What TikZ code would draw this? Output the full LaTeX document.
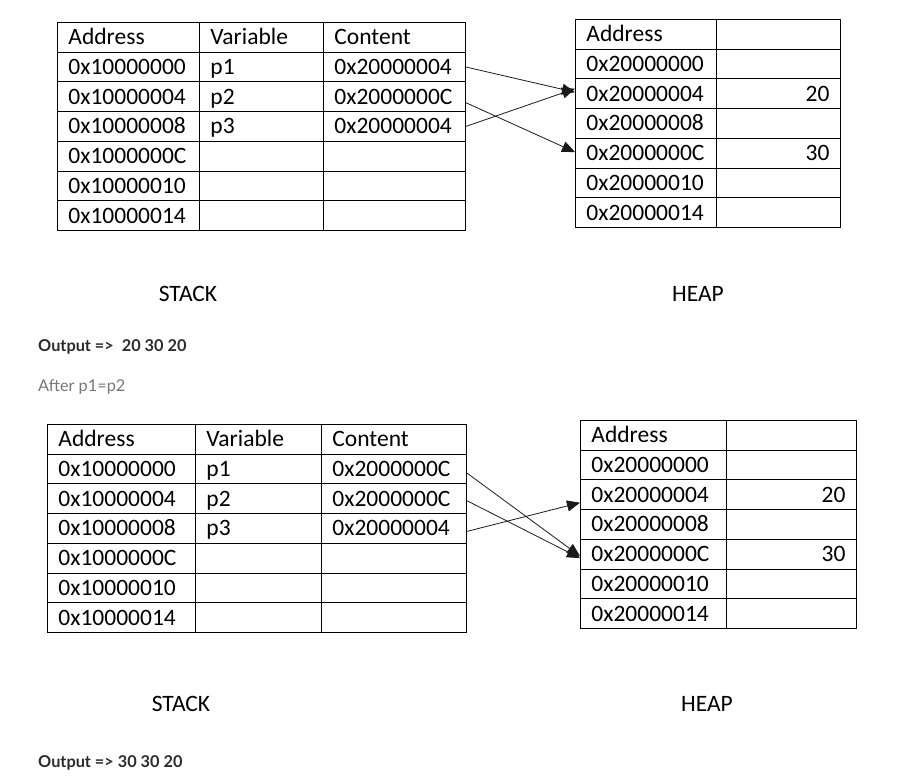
\documentclass[tikz,border=0pt]{standalone}
\usepackage{fontspec}
\setmainfont{Carlito}
\newfontfamily\latofont{Lato}
\usetikzlibrary{arrows.meta}
\definecolor{outtext}{HTML}{2B2B2B}
\definecolor{aftertext}{HTML}{777777}
\definecolor{arrowcol}{HTML}{1A1A1A}
\begin{document}
\begin{tikzpicture}[x=1pt,y=-1pt,
  cell/.style={draw=black, line width=0.9pt, rectangle, inner xsep=11pt, inner ysep=0pt,
    minimum height=29.7pt, text height=18pt, text depth=3pt,
    font=\fontsize{23.5}{26}\selectfont, anchor=north west},
  lcell/.style={cell, align=left},
  rcell/.style={cell, align=right},
  caption/.style={font=\fontsize{23.5}{26}\selectfont},
  outlabel/.style={font=\latofont\bfseries\fontsize{16.3}{19}\selectfont, text=outtext, anchor=west, inner sep=0pt},
  afterlabel/.style={font=\latofont\fontsize{16.3}{19}\selectfont, text=aftertext, anchor=west, inner sep=0pt},
  ptr/.style={draw=arrowcol, line width=0.8pt, -{Triangle[length=13pt,width=11pt]}}
]
\useasboundingbox (0,0) rectangle (903,777);

% ---------- top stack ----------
\foreach \r/\a/\v/\c in {0/Address/Variable/Content,
  1/0x10000000/p1/0x20000004, 2/0x10000004/p2/0x2000000C, 3/0x10000008/p3/0x20000004,
  4/0x1000000C//, 5/0x10000010//, 6/0x10000014//}{
  \node[lcell, text width=120pt] (sa\r) at (57,{22+29.7*\r}) {\a};
  \node[lcell, text width=102pt] (sv\r) at (199,{22+29.7*\r}) {\v};
  \node[lcell, text width=120pt] (sc\r) at (323,{22+29.7*\r}) {\c};
}
% ---------- top heap ----------
\foreach \r/\a/\v in {0/Address/, 1/0x20000000/, 2/0x20000004/20, 3/0x20000008/,
  4/0x2000000C/30, 5/0x20000010/, 6/0x20000014/}{
  \node[lcell, text width=119pt] (ha\r) at (575,{19+29.7*\r}) {\a};
  \node[rcell, text width=102pt] (hv\r) at (716,{19+29.7*\r}) {\v};
}
\node[caption] (stack1) at (188,294) {STACK};
\node[caption] (heap1) at (698,294) {HEAP};

\draw[ptr] ([yshift=0pt]sc1.east) -- ([yshift=1.5pt]ha2.west);
\draw[ptr] ([yshift=-6pt]sc2.east) -- ([yshift=1pt]ha4.west);
\draw[ptr] (sc3.east) -- ([yshift=5pt]ha2.west);

\node[outlabel] (out1) at (38,347) {Output =>\ \ 20 30 20};
\node[afterlabel] (after) at (38,387) {After p1=p2};

% ---------- bottom stack ----------
\foreach \r/\a/\v/\c in {0/Address/Variable/Content,
  1/0x10000000/p1/0x2000000C, 2/0x10000004/p2/0x2000000C, 3/0x10000008/p3/0x20000004,
  4/0x1000000C//, 5/0x10000010//, 6/0x10000014//}{
  \node[lcell, text width=126pt] (ta\r) at (47,{424+29.7*\r}) {\a};
  \node[lcell, text width=104pt] (tv\r) at (195,{424+29.7*\r}) {\v};
  \node[lcell, text width=123pt] (tc\r) at (321,{424+29.7*\r}) {\c};
}
% ---------- bottom heap ----------
\foreach \r/\a/\v in {0/Address/, 1/0x20000000/, 2/0x20000004/20, 3/0x20000008/,
  4/0x2000000C/30, 5/0x20000010/, 6/0x20000014/}{
  \node[lcell, text width=124pt] (ga\r) at (580,{420+29.7*\r}) {\a};
  \node[rcell, text width=108pt] (gv\r) at (726,{420+29.7*\r}) {\v};
}
\node[caption] (stack2) at (181,704) {STACK};
\node[caption] (heap2) at (707,704) {HEAP};

\draw[ptr] ([yshift=-4pt]tc1.east) -- ([yshift=-2pt]ga4.west);
\draw[ptr] ([yshift=-2pt]tc2.east) -- ([yshift=-4pt]ga4.west);
\draw[ptr] ([yshift=-3pt]tc3.east) -- ([yshift=-8pt]ga2.west);

\node[outlabel] (out2) at (38,763) {Output => 30 30 20};
\end{tikzpicture}
\end{document}
